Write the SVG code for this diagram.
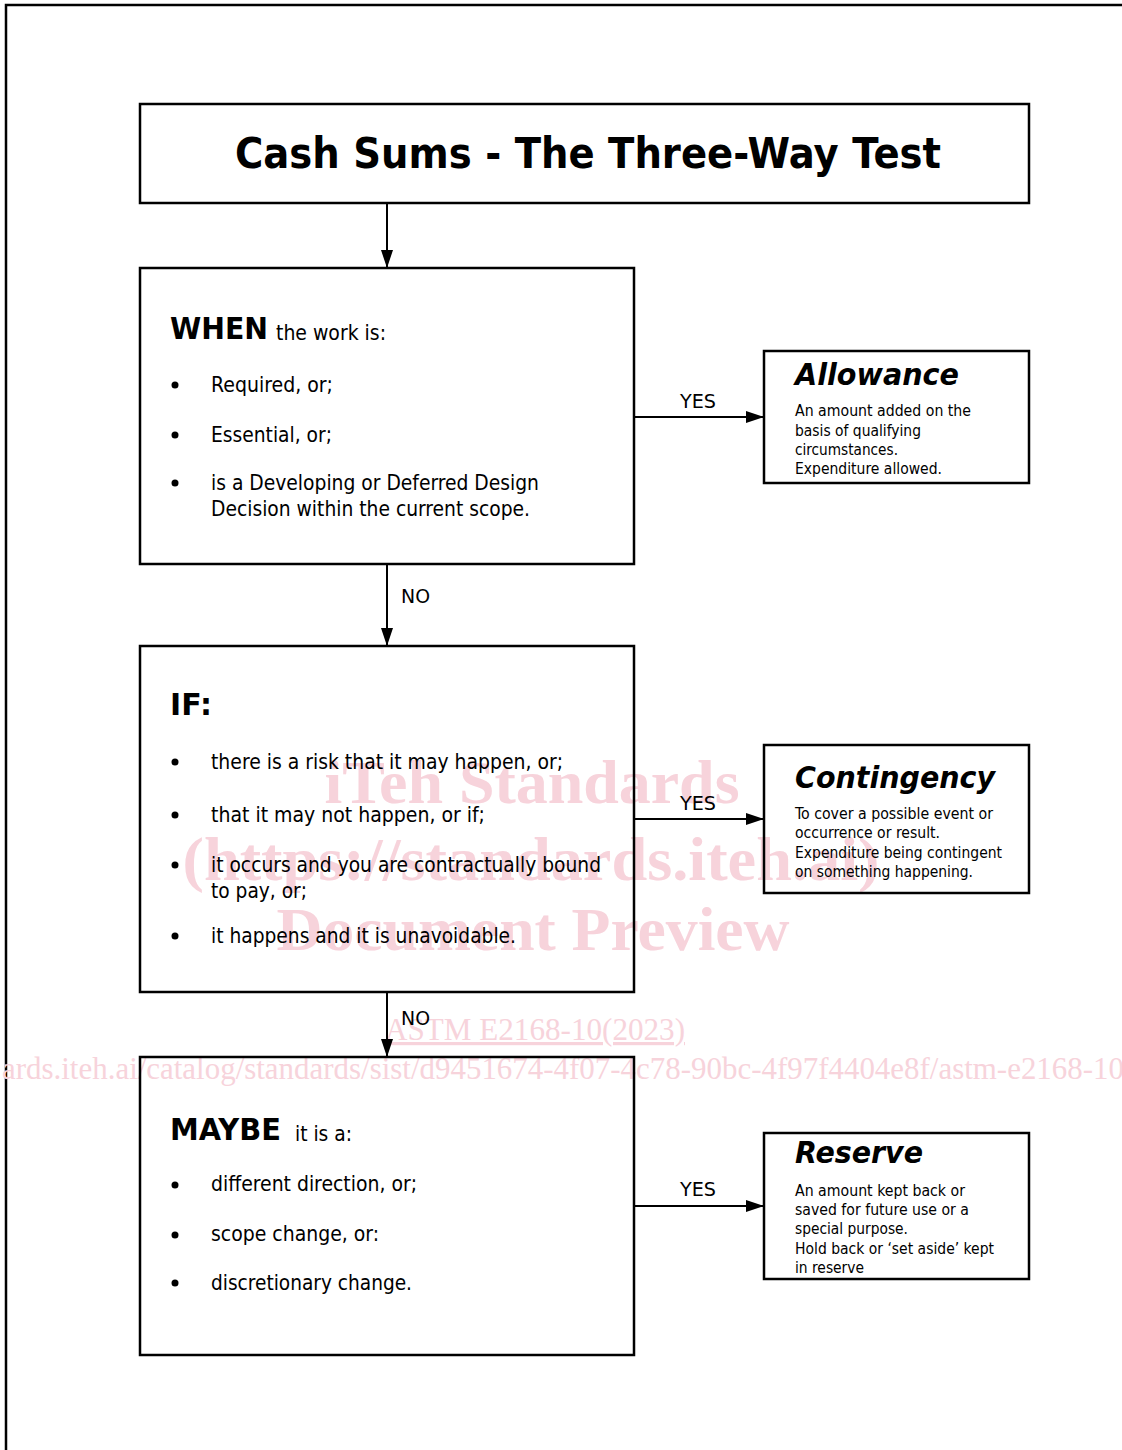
<svg xmlns="http://www.w3.org/2000/svg" width="1122" height="1450" viewBox="0 0 1122 1450">
<style>
.box{fill:none;stroke:#000;stroke-width:2.5}
.ln{fill:none;stroke:#000;stroke-width:2}
.t{font-family:"DejaVu Sans Condensed","DejaVu Sans",sans-serif;fill:#000}
.b{font-size:21px}
.s{font-size:15px}
.lbl{font-size:20px}
.hd{font-family:"DejaVu Sans","DejaVu Sans Condensed",sans-serif;font-weight:bold;fill:#000}
.hi{font-family:"DejaVu Sans","DejaVu Sans Condensed",sans-serif;font-weight:bold;font-style:italic;font-size:31px;fill:#000}
.wm{font-family:"Liberation Serif","DejaVu Serif",serif;fill:#f7d3db}
</style>
<defs>
<marker id="ah" markerWidth="18" markerHeight="12" refX="18" refY="6" orient="auto" markerUnits="userSpaceOnUse">
<path d="M0,0 L18,6 L0,12 Z" fill="#000"/>
</marker>
</defs>
<rect width="1122" height="1450" fill="#fff"/>
<path d="M6,1450 V5 H1122" fill="none" stroke="#000" stroke-width="2.5"/>

<g id="watermark">
<text class="wm" x="532" y="803" font-size="62" font-weight="bold" text-anchor="middle" textLength="415" lengthAdjust="spacingAndGlyphs">iTeh Standards</text>
<text class="wm" x="531" y="880" font-size="62" font-weight="bold" text-anchor="middle" textLength="697" lengthAdjust="spacingAndGlyphs">(https://standards.iteh.ai)</text>
<text class="wm" x="533" y="950" font-size="62" font-weight="bold" text-anchor="middle" textLength="513" lengthAdjust="spacingAndGlyphs">Document Preview</text>
<text class="wm" x="535" y="1040" font-size="32" text-anchor="middle" textLength="300" lengthAdjust="spacingAndGlyphs" text-decoration="underline">ASTM E2168-10(2023)</text>
<text class="wm" x="2" y="1079" font-size="32" textLength="1122" lengthAdjust="spacingAndGlyphs">ards.iteh.ai/catalog/standards/sist/d9451674-4f07-4c78-90bc-4f97f4404e8f/astm-e2168-10</text>
</g>

<g id="connectors">
<line class="ln" x1="387" y1="203" x2="387" y2="268" marker-end="url(#ah)"/>
<line class="ln" x1="634" y1="417" x2="764" y2="417" marker-end="url(#ah)"/>
<text class="t lbl" x="698" y="408" text-anchor="middle" textLength="36" lengthAdjust="spacingAndGlyphs">YES</text>
<line class="ln" x1="387" y1="564" x2="387" y2="646" marker-end="url(#ah)"/>
<text class="t lbl" x="401" y="603" textLength="29" lengthAdjust="spacingAndGlyphs">NO</text>
<line class="ln" x1="634" y1="819" x2="764" y2="819" marker-end="url(#ah)"/>
<text class="t lbl" x="698" y="810" text-anchor="middle" textLength="36" lengthAdjust="spacingAndGlyphs">YES</text>
<line class="ln" x1="387" y1="992" x2="387" y2="1057" marker-end="url(#ah)"/>
<text class="t lbl" x="401" y="1025" textLength="29" lengthAdjust="spacingAndGlyphs">NO</text>
<line class="ln" x1="634" y1="1206" x2="764" y2="1206" marker-end="url(#ah)"/>
<text class="t lbl" x="698" y="1196" text-anchor="middle" textLength="36" lengthAdjust="spacingAndGlyphs">YES</text>
</g>

<g id="title">
<rect class="box" x="140" y="104" width="889" height="99"/>
<text class="hd" x="588" y="168" font-size="43" text-anchor="middle" textLength="706" lengthAdjust="spacingAndGlyphs">Cash Sums - The Three-Way Test</text>
</g>

<g id="when">
<rect class="box" x="140" y="268" width="494" height="296"/>
<text class="hd" x="170" y="339" font-size="31" textLength="98" lengthAdjust="spacingAndGlyphs">WHEN</text>
<text class="t b" x="276" y="340" textLength="110" lengthAdjust="spacingAndGlyphs">the work is:</text>
<circle cx="175" cy="385" r="3.5"/>
<text class="t b" x="211" y="392" textLength="122" lengthAdjust="spacingAndGlyphs">Required, or;</text>
<circle cx="175" cy="435" r="3.5"/>
<text class="t b" x="211" y="442" textLength="121" lengthAdjust="spacingAndGlyphs">Essential, or;</text>
<circle cx="175" cy="483" r="3.5"/>
<text class="t b" x="211" y="490" textLength="328" lengthAdjust="spacingAndGlyphs">is a Developing or Deferred Design</text>
<text class="t b" x="211" y="516" textLength="319" lengthAdjust="spacingAndGlyphs">Decision within the current scope.</text>
</g>

<g id="allowance">
<rect class="box" x="764" y="351" width="265" height="132"/>
<text class="hi" x="795" y="385" textLength="164" lengthAdjust="spacingAndGlyphs">Allowance</text>
<text class="t s" x="795" y="416" textLength="176" lengthAdjust="spacingAndGlyphs">An amount added on the</text>
<text class="t s" x="795" y="436" textLength="126" lengthAdjust="spacingAndGlyphs">basis of qualifying</text>
<text class="t s" x="795" y="455" textLength="103" lengthAdjust="spacingAndGlyphs">circumstances.</text>
<text class="t s" x="795" y="474" textLength="147" lengthAdjust="spacingAndGlyphs">Expenditure allowed.</text>
</g>

<g id="if">
<rect class="box" x="140" y="646" width="494" height="346"/>
<text class="hd" x="170" y="715" font-size="31" textLength="42" lengthAdjust="spacingAndGlyphs">IF:</text>
<circle cx="175" cy="762" r="3.5"/>
<text class="t b" x="211" y="769" textLength="352" lengthAdjust="spacingAndGlyphs">there is a risk that it may happen, or;</text>
<circle cx="175" cy="815" r="3.5"/>
<text class="t b" x="211" y="822" textLength="274" lengthAdjust="spacingAndGlyphs">that it may not happen, or if;</text>
<circle cx="175" cy="865" r="3.5"/>
<text class="t b" x="211" y="872" textLength="390" lengthAdjust="spacingAndGlyphs">it occurs and you are contractually bound</text>
<text class="t b" x="211" y="898" textLength="96" lengthAdjust="spacingAndGlyphs">to pay, or;</text>
<circle cx="175" cy="936" r="3.5"/>
<text class="t b" x="211" y="943" textLength="305" lengthAdjust="spacingAndGlyphs">it happens and it is unavoidable.</text>
</g>

<g id="contingency">
<rect class="box" x="764" y="745" width="265" height="148"/>
<text class="hi" x="795" y="788" textLength="200" lengthAdjust="spacingAndGlyphs">Contingency</text>
<text class="t s" x="795" y="819" textLength="198" lengthAdjust="spacingAndGlyphs">To cover a possible event or</text>
<text class="t s" x="795" y="838" textLength="145" lengthAdjust="spacingAndGlyphs">occurrence or result.</text>
<text class="t s" x="795" y="858" textLength="207" lengthAdjust="spacingAndGlyphs">Expenditure being contingent</text>
<text class="t s" x="795" y="877" textLength="178" lengthAdjust="spacingAndGlyphs">on something happening.</text>
</g>

<g id="maybe">
<rect class="box" x="140" y="1057" width="494" height="298"/>
<text class="hd" x="170" y="1140" font-size="31" textLength="111" lengthAdjust="spacingAndGlyphs">MAYBE</text>
<text class="t b" x="295" y="1141" textLength="57" lengthAdjust="spacingAndGlyphs">it is a:</text>
<circle cx="175" cy="1185" r="3.5"/>
<text class="t b" x="211" y="1191" textLength="206" lengthAdjust="spacingAndGlyphs">different direction, or;</text>
<circle cx="175" cy="1235" r="3.5"/>
<text class="t b" x="211" y="1241" textLength="168" lengthAdjust="spacingAndGlyphs">scope change, or:</text>
<circle cx="175" cy="1283" r="3.5"/>
<text class="t b" x="211" y="1290" textLength="201" lengthAdjust="spacingAndGlyphs">discretionary change.</text>
</g>

<g id="reserve">
<rect class="box" x="764" y="1133" width="265" height="146"/>
<text class="hi" x="795" y="1163" textLength="128" lengthAdjust="spacingAndGlyphs">Reserve</text>
<text class="t s" x="795" y="1196" textLength="170" lengthAdjust="spacingAndGlyphs">An amount kept back or</text>
<text class="t s" x="795" y="1215" textLength="174" lengthAdjust="spacingAndGlyphs">saved for future use or a</text>
<text class="t s" x="795" y="1234" textLength="113" lengthAdjust="spacingAndGlyphs">special purpose.</text>
<text class="t s" x="795" y="1254" textLength="199" lengthAdjust="spacingAndGlyphs">Hold back or ‘set aside’ kept</text>
<text class="t s" x="795" y="1273" textLength="69" lengthAdjust="spacingAndGlyphs">in reserve</text>
</g>
</svg>
